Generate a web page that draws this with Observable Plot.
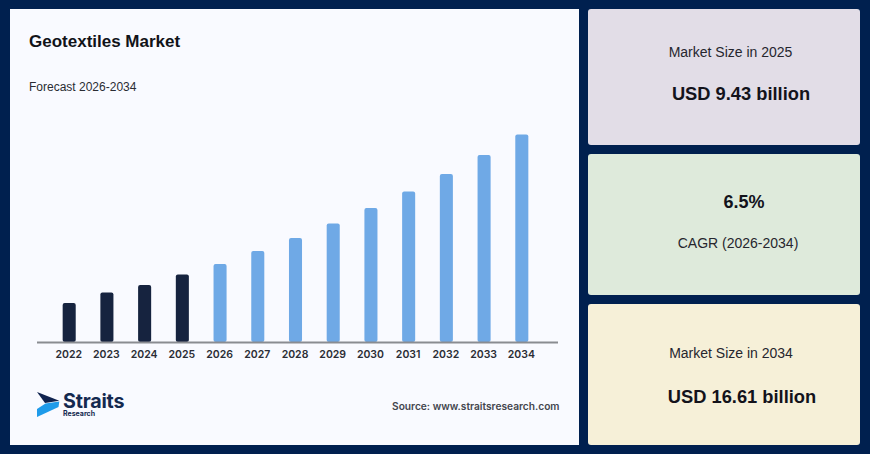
<!DOCTYPE html>
<html>
<head>
<meta charset="utf-8">
<script src="https://cdn.jsdelivr.net/npm/d3@7"></script>
<script src="https://cdn.jsdelivr.net/npm/@observablehq/plot@0.6"></script>
<style>
html,body{margin:0;padding:0;background:#00204f;width:870px;height:454px;overflow:hidden;font-family:"Liberation Sans",Arial,sans-serif}
.abs{position:absolute;white-space:nowrap}
#panel{position:absolute;left:10px;top:9px;width:569px;height:436px;background:#f9faff}
.card{position:absolute;left:588px;width:272px;border-radius:3px}
.card div{position:absolute;white-space:nowrap;transform:translateX(-50%)}
#chart{position:absolute;left:10px;top:100px}
#chart svg{display:block;background:transparent}
</style>
</head>
<body>
<div id="panel"></div>
<div class="abs" style="left:29px;top:32px;font-size:17px;font-weight:700;color:#111318">Geotextiles Market</div>
<div class="abs" style="left:29px;top:80px;font-size:12px;color:#2a2c33">Forecast 2026-2034</div>
<div id="chart"></div>

<svg class="abs" style="left:36px;top:390px" width="26" height="29" viewBox="0 0 26 29">
  <polygon points="1,2 23.3,10.7 9,13" fill="#10234f"/>
  <polygon points="23.3,11.5 22.5,17 1,27 1,19 9.5,13.5" fill="#1f9bea"/>
</svg>
<div class="abs" style="left:63px;top:393.8px;line-height:.8;font-size:19.7px;font-weight:700;color:#14294f;letter-spacing:-.2px;font-family:Inter,'Liberation Sans',sans-serif">Straits</div>
<div class="abs" style="left:63px;top:409.6px;line-height:1;font-size:7px;font-weight:700;color:#14294f;font-family:Inter,'Liberation Sans',sans-serif">Research</div>
<div class="abs" style="left:392px;top:400px;font-size:10.2px;color:#44464e;font-family:Inter,'Liberation Sans',sans-serif;font-weight:600">Source: www.straitsresearch.com</div>

<div class="card" style="top:9px;height:136px;background:#e2dde7">
  <div style="left:142.5px;top:35px;font-size:14px;color:#26262e">Market Size in 2025</div>
  <div style="left:153px;top:74px;font-size:18.3px;font-weight:700;color:#13131b">USD 9.43 billion</div>
</div>
<div class="card" style="top:154px;height:141px;background:#deeadb">
  <div style="left:156px;top:38px;font-size:18px;font-weight:700;color:#13131b">6.5%</div>
  <div style="left:150px;top:81px;font-size:14px;color:#26262e">CAGR (2026-2034)</div>
</div>
<div class="card" style="top:304px;height:141px;background:#f6f0d8">
  <div style="left:143px;top:41px;font-size:14px;color:#26262e">Market Size in 2034</div>
  <div style="left:154px;top:82px;font-size:18.3px;font-weight:700;color:#13131b">USD 16.61 billion</div>
</div>

<script>
const years = [2022,2023,2024,2025,2026,2027,2028,2029,2030,2031,2032,2033,2034];
const values = [7.97,8.51,8.89,9.43,9.97,10.64,11.30,12.05,12.84,13.69,14.59,15.56,16.61];
const kinds = ["h","h","h","h","f","f","f","f","f","f","f","f","f"];
const axisBase = 5.97;
const axisTop = 18.38;
const table = years.map((year,i)=>({year,value:values[i],kind:kinds[i]}));

const plot = Plot.plot({
  width:569, height:270,
  marginTop:0, marginBottom:28, marginLeft:27, marginRight:21,
  style:{background:"transparent",fontFamily:"Inter,'Liberation Sans',sans-serif"},
  x:{type:"band",domain:years,range:[28,543],round:false,paddingInner:0.654,paddingOuter:0.654,label:null},
  y:{domain:[axisBase,axisTop],range:[242,0],axis:null},
  color:{domain:["h","f"],range:["#16233f","#6fa9e6"]},
  marks:[
    Plot.barY(table,{x:"year",y1:axisBase,y2:"value",fill:"kind",rx:2}),
    Plot.ruleY([axisBase],{stroke:"#8a8c91",strokeWidth:2}),
    Plot.axisX({tickSize:0,tickPadding:8,dx:-1,fontSize:10.5,fontWeight:600,fill:"#2b2d35",label:null,tickFormat:d=>String(d)})
  ]
});
document.getElementById("chart").appendChild(plot);
</script>
</body>
</html>
